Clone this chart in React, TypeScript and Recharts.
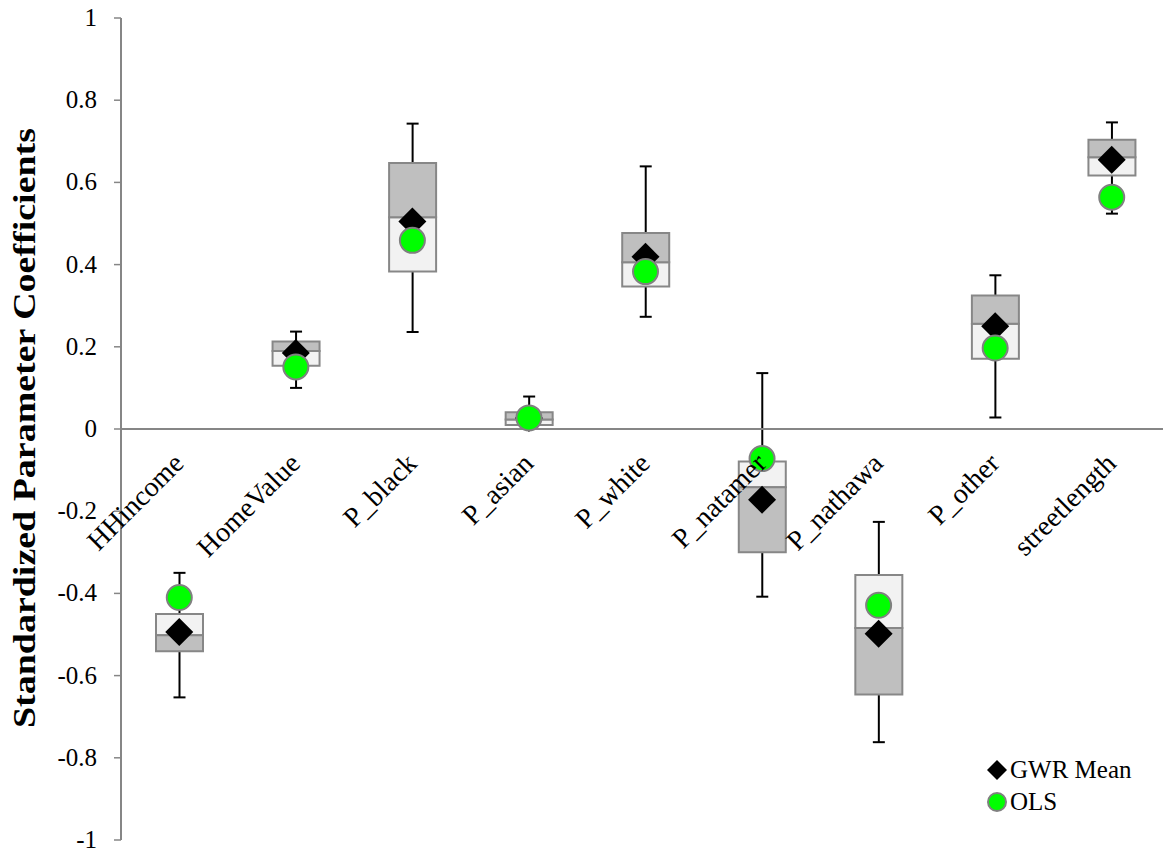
import React from 'react';
import { ComposedChart, Bar, Scatter, XAxis, YAxis, ReferenceLine, Legend } from 'recharts';

const categories = ['HHincome', 'HomeValue', 'P_black', 'P_asian', 'P_white', 'P_natamer', 'P_nathawa', 'P_other', 'streetlength'];
const whiskerLow = [-0.653, 0.100, 0.236, 0.0, 0.273, -0.408, -0.762, 0.028, 0.524];
const q1 = [-0.541, 0.154, 0.383, 0.010, 0.347, -0.300, -0.646, 0.171, 0.617];
const median = [-0.502, 0.190, 0.515, 0.023, 0.406, -0.142, -0.484, 0.256, 0.661];
const q3 = [-0.450, 0.213, 0.647, 0.041, 0.477, -0.079, -0.355, 0.325, 0.704];
const whiskerHigh = [-0.350, 0.237, 0.743, 0.079, 0.639, 0.136, -0.226, 0.374, 0.746];
const gwrMean = [-0.494, 0.185, 0.505, 0.027, 0.419, -0.172, -0.498, 0.250, 0.655];
const ols = [-0.410, 0.151, 0.459, 0.027, 0.383, -0.072, -0.429, 0.197, 0.564];

const yTicks = [-1, -0.8, -0.6, -0.4, -0.2, 0, 0.2, 0.4, 0.6, 0.8, 1];
const yLabel = 'Standardized Parameter Coefficients';
const seriesNames = ['GWR Mean', 'OLS'];

// inner = half-box nearer to zero (light), outer = half-box farther from zero (dark)
const data = categories.map((name, i) => {
  const neg = median[i] < 0;
  return {
    name,
    whisker: [whiskerLow[i], whiskerHigh[i]],
    inner: neg ? [median[i], q3[i]] : [q1[i], median[i]],
    outer: neg ? [q1[i], median[i]] : [median[i], q3[i]],
    gwr: gwrMean[i],
    ols: ols[i],
  };
});

const FONT = 'Liberation Serif, Times New Roman, serif';
const W = 1180;
const H = 853;
const XAXIS_H = 13;
const MARGIN = { top: 18, right: 10, bottom: 0, left: 0 };
const PLOT_H = H - MARGIN.top - MARGIN.bottom - XAXIS_H;
const ZERO_Y = MARGIN.top + PLOT_H / 2;
const AXIS_GRAY = '#868686';

const Whisker = (props: any) => {
  const { x, y, width, height } = props;
  const cx = x + width / 2;
  const top = Math.min(y, y + height);
  const bot = Math.max(y, y + height);
  return (
    <g>
      <line x1={cx} x2={cx} y1={top} y2={bot} stroke="#000" strokeWidth={2} />
      <line x1={cx - 6} x2={cx + 6} y1={top} y2={top} stroke="#000" strokeWidth={2} />
      <line x1={cx - 6} x2={cx + 6} y1={bot} y2={bot} stroke="#000" strokeWidth={2} />
    </g>
  );
};

const Diamond = (props: any) => {
  const { cx, cy } = props;
  const r = 14;
  return <polygon points={`${cx},${cy - r} ${cx + r},${cy} ${cx},${cy + r} ${cx - r},${cy}`} fill="#000" />;
};

const Dot = (props: any) => {
  const { cx, cy } = props;
  return <circle cx={cx} cy={cy} r={12.5} fill="#00FF00" stroke="#808080" strokeWidth={2} />;
};

const CatTick = (props: any) => {
  const { x, payload } = props;
  const ax = x + 6;
  const ay = ZERO_Y + 36;
  return (
    <text x={ax} y={ay} transform={`rotate(-45, ${ax}, ${ay})`} textAnchor="end" fontSize={28} fontFamily={FONT} fill="#000">
      {payload.value}
    </text>
  );
};

const YTick = (props: any) => {
  const { x, y, payload } = props;
  return (
    <text x={x} y={y} dy={8} textAnchor="end" fontSize={25} fontFamily={FONT} fill="#000">
      {String(payload.value)}
    </text>
  );
};

const YTitle = () => (
  <text x={35} y={428} transform="rotate(-90, 35, 428)" textAnchor="middle" fontSize={31} fontWeight="bold" fontFamily={FONT} fill="#000" textLength={600} lengthAdjust="spacingAndGlyphs">
    {yLabel}
  </text>
);

const LegendContent = () => (
  <svg width={180} height={70}>
    <polygon points="12,8 22,18 12,28 2,18" fill="#000" />
    <text x={25} y={26} fontSize={25} fontFamily={FONT} fill="#000">{seriesNames[0]}</text>
    <circle cx={12} cy={50} r={9} fill="#00FF00" stroke="#808080" strokeWidth={2} />
    <text x={25} y={58} fontSize={25} fontFamily={FONT} fill="#000">{seriesNames[1]}</text>
  </svg>
);

export default function App() {
  return (
    <div style={{ position: 'absolute', left: 0, top: 0, width: 1163, height: 853, overflow: 'hidden', background: '#fff' }}>
      <ComposedChart width={W} height={H} data={data} margin={MARGIN} barGap={-47}>
        <XAxis dataKey="name" height={XAXIS_H} axisLine={false} tickLine={false} tick={<CatTick />} interval={0} />
        <YAxis
          type="number"
          domain={[-1, 1]}
          ticks={yTicks}
          interval={0}
          width={121}
          axisLine={{ stroke: AXIS_GRAY, strokeWidth: 2 }}
          tickLine={{ stroke: AXIS_GRAY, strokeWidth: 1.5 }}
          tickSize={7}
          tickMargin={17}
          tick={<YTick />}
          label={<YTitle />}
        />
        <ReferenceLine y={0} stroke={AXIS_GRAY} strokeWidth={2} />
        <Bar dataKey="whisker" barSize={47} shape={<Whisker />} legendType="none" isAnimationActive={false} />
        <Bar dataKey="inner" barSize={47} fill="#F2F2F2" stroke="#878787" strokeWidth={2} legendType="none" isAnimationActive={false} />
        <Bar dataKey="outer" barSize={47} fill="#BFBFBF" stroke="#878787" strokeWidth={2} legendType="none" isAnimationActive={false} />
        <Scatter dataKey="gwr" name={seriesNames[0]} shape={<Diamond />} isAnimationActive={false} />
        <Scatter dataKey="ols" name={seriesNames[1]} shape={<Dot />} isAnimationActive={false} />
        <Legend layout="horizontal" verticalAlign="middle" align="center" content={<LegendContent />} wrapperStyle={{ left: 985, top: 752, width: 180, height: 70 }} />
      </ComposedChart>
    </div>
  );
}
